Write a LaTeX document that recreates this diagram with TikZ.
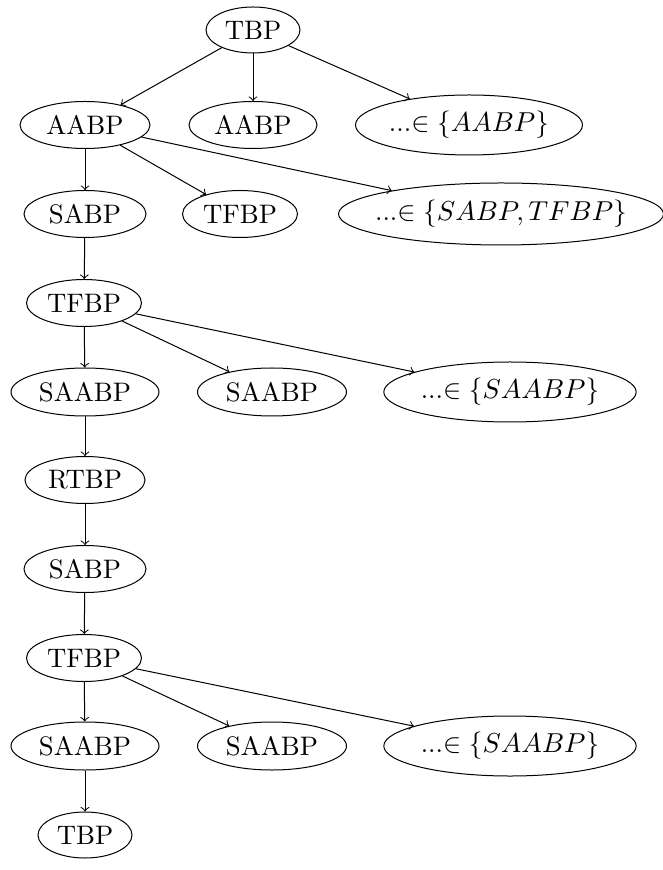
\documentclass[tikz,border=0pt]{standalone}
\usetikzlibrary{shapes.geometric}
\begin{document}
\begin{tikzpicture}[x=0.4pt,y=-0.4pt,
  ell/.style 2 args={draw,ellipse,inner sep=0pt,font=\fontsize{10.7pt}{13pt}\selectfont,minimum width=#1*0.4pt,minimum height=#2*0.4pt},
  edge/.style={->,line width=0.4pt}]
\useasboundingbox (0,0) rectangle (662,870);
% row 1
\node[ell={94}{46}] (t1) at (253,30) {TBP};
% row 2
\node[ell={130}{47}] (a1) at (85,125) {AABP};
\node[ell={128}{47}] (a2) at (253,125) {AABP};
\node[ell={227}{60}] (a3) at (469,125) {...$\in \{AABP\}$};
% row 3
\node[ell={122}{47}] (s1) at (85,214) {SABP};
\node[ell={115}{47}] (f1) at (240,214) {TFBP};
\node[ell={325}{62},inner xsep=-5.5pt] (e1) at (501,214) {...$\in \{SABP, TFBP\}$};
% row 4
\node[ell={115}{47}] (tf1) at (84,303) {TFBP};
% row 5
\node[ell={148}{48}] (sa1) at (85,392) {SAABP};
\node[ell={149}{48}] (sa2) at (272,392) {SAABP};
\node[ell={248}{60}] (e2) at (510,392) {...$\in \{SAABP\}$};
% rows 6-8
\node[ell={120}{47}] (rt) at (85,480) {RTBP};
\node[ell={122}{47}] (s2) at (85,569) {SABP};
\node[ell={115}{47}] (tf2) at (84,658) {TFBP};
% row 9
\node[ell={148}{48}] (sa3) at (85,746) {SAABP};
\node[ell={149}{48}] (sa4) at (272,746) {SAABP};
\node[ell={248}{60}] (e3) at (510,746) {...$\in \{SAABP\}$};
% row 10
\node[ell={94}{46}] (t2) at (85,835) {TBP};
% edges
\draw[edge] (t1) -- (a1);
\draw[edge] (t1) -- (a2);
\draw[edge] (t1) -- (a3);
\draw[edge] (a1) -- (s1);
\draw[edge] (a1) -- (f1);
\draw[edge] (a1) -- (e1);
\draw[edge] (s1) -- (tf1);
\draw[edge] (tf1) -- (sa1);
\draw[edge] (tf1) -- (sa2);
\draw[edge] (tf1) -- (e2);
\draw[edge] (sa1) -- (rt);
\draw[edge] (rt) -- (s2);
\draw[edge] (s2) -- (tf2);
\draw[edge] (tf2) -- (sa3);
\draw[edge] (tf2) -- (sa4);
\draw[edge] (tf2) -- (e3);
\draw[edge] (sa3) -- (t2);
\end{tikzpicture}
\end{document}
